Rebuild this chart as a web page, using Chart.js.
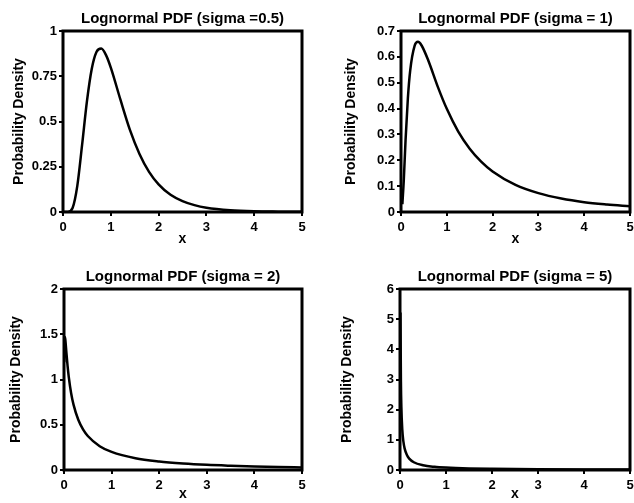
<!DOCTYPE html>
<html>
<head>
<meta charset="utf-8">
<script src="https://cdn.jsdelivr.net/npm/chart.js@4.4.0/dist/chart.umd.min.js"></script>
<style>
  html, body { margin: 0; padding: 0; background: #fff; overflow: hidden; }
  body { width: 634px; height: 503px; position: relative; }
  .panel { position: absolute; }
</style>
</head>
<body>
<div class="panel" style="left:0;top:0;width:317px;height:251px"><canvas id="g1"></canvas></div>
<div class="panel" style="left:317px;top:0;width:330px;height:251px"><canvas id="g2"></canvas></div>
<div class="panel" style="left:0;top:251px;width:317px;height:252px"><canvas id="g3"></canvas></div>
<div class="panel" style="left:317px;top:251px;width:330px;height:252px"><canvas id="g4"></canvas></div>
<script>
// valores
const titulos = [
  "Lognormal PDF (sigma =0.5)",
  "Lognormal PDF (sigma = 1)",
  "Lognormal PDF (sigma = 2)",
  "Lognormal PDF (sigma = 5)"
];

const x1 = [0, 0.1, 0.2, 0.3, 0.4, 0.5, 0.6, 0.7, 0.8, 0.9, 1.0, 1.2, 1.4, 1.6, 1.8, 2.0, 2.25, 2.5, 2.75, 3.0, 3.5, 4.0, 4.5, 5.0];
const y1 = [0, 0.0002, 0.022, 0.146, 0.372, 0.61, 0.789, 0.884, 0.903, 0.867, 0.798, 0.622, 0.454, 0.321, 0.222, 0.153, 0.095, 0.06, 0.038, 0.024, 0.01, 0.004, 0.002, 0.001];

const x2 = [0.03, 0.06, 0.1, 0.15, 0.2, 0.3, 0.37, 0.45, 0.6, 0.8, 1.0, 1.25, 1.5, 1.75, 2.0, 2.5, 3.0, 3.5, 4.0, 4.5, 5.0];
const y2 = [0.03, 0.12, 0.28, 0.44, 0.546, 0.644, 0.658, 0.644, 0.584, 0.486, 0.399, 0.311, 0.245, 0.195, 0.157, 0.105, 0.073, 0.052, 0.038, 0.029, 0.022];

const x3 = [0.005, 0.01, 0.02, 0.03, 0.05, 0.075, 0.1, 0.15, 0.2, 0.3, 0.4, 0.5, 0.75, 1.0, 1.5, 2.0, 2.5, 3.0, 3.5, 4.0, 4.5, 5.0];
const y3 = [1.19, 1.41, 1.47, 1.43, 1.30, 1.15, 1.03, 0.848, 0.722, 0.555, 0.449, 0.376, 0.263, 0.2, 0.13, 0.094, 0.072, 0.057, 0.047, 0.039, 0.033, 0.029];

const x4 = [0.01, 0.02, 0.03, 0.05, 0.075, 0.1, 0.15, 0.2, 0.3, 0.5, 0.75, 1.0, 1.5, 2.0, 3.0, 4.0, 5.0];
const y4 = [5.22, 2.94, 2.08, 1.33, 0.93, 0.717, 0.495, 0.379, 0.258, 0.158, 0.106, 0.08, 0.053, 0.04, 0.026, 0.019, 0.015];

const ticksX = [0, 1, 2, 3, 4, 5];
const ticksY1 = [0, 0.25, 0.5, 0.75, 1];
const ticksY2 = [0, 0.1, 0.2, 0.3, 0.4, 0.5, 0.6, 0.7];
const ticksY3 = [0, 0.5, 1, 1.5, 2];
const ticksY4 = [0, 1, 2, 3, 4, 5, 6];

const fuente = "'Liberation Sans', Arial, sans-serif";

// marco negro alrededor del area de datos
const marco = {
  id: "marco",
  afterDatasetsDraw(chart) {
    const a = chart.chartArea;
    const ctx = chart.ctx;
    ctx.save();
    ctx.strokeStyle = "#000";
    ctx.lineWidth = 3;
    ctx.strokeRect(a.left, a.top, a.right - a.left, a.bottom - a.top);
    ctx.restore();
  }
};

function crearGrafico(id, titulo, xs, ys, ticksY, op) {
  const datos = xs.map((x, i) => ({ x: x, y: ys[i] }));
  return new Chart(document.getElementById(id).getContext("2d"), {
    type: "line",
    data: {
      datasets: [{
        data: datos,
        borderColor: "#000",
        borderWidth: 2.5,
        pointRadius: 0,
        cubicInterpolationMode: "monotone",
        fill: false
      }]
    },
    options: {
      responsive: true,
      maintainAspectRatio: false,
      animation: false,
      layout: { padding: { left: 0, right: op.derecha, top: 0, bottom: 0 } },
      plugins: {
        legend: { display: false },
        tooltip: { enabled: false },
        title: {
          display: true,
          text: titulo,
          color: "#000",
          fullSize: false,
          font: { family: fuente, size: 15, weight: "bold" },
          padding: { top: op.tituloArriba, bottom: op.tituloAbajo }
        }
      },
      scales: {
        x: {
          type: "linear",
          min: 0,
          max: 5,
          afterBuildTicks: (s) => { s.ticks = ticksX.map(v => ({ value: v })); },
          afterFit: (s) => { s.height = op.altoX; },
          border: { display: false },
          grid: { drawOnChartArea: false, color: "#000", lineWidth: 2, tickLength: 4 },
          ticks: {
            color: "#000", padding: 4, maxRotation: 0,
            callback: (v) => String(v),
            font: { family: fuente, size: 13, weight: "bold" }
          },
          title: {
            display: true,
            text: "x",
            color: "#000",
            padding: { top: 0, bottom: op.tituloX },
            font: { family: fuente, size: 14, weight: "bold" }
          }
        },
        y: {
          min: ticksY[0],
          max: ticksY[ticksY.length - 1],
          afterBuildTicks: (s) => { s.ticks = ticksY.map(v => ({ value: v })); },
          afterFit: (s) => { s.width = op.anchoY; },
          border: { display: false },
          grid: { drawOnChartArea: false, color: "#000", lineWidth: 2, tickLength: 4 },
          ticks: {
            color: "#000", padding: 2,
            callback: (v) => String(v),
            font: { family: fuente, size: 13, weight: "bold" }
          },
          title: {
            display: true,
            text: "Probability Density",
            color: "#000",
            padding: op.tituloY,
            font: { family: fuente, size: 14, weight: "bold" }
          }
        }
      }
    },
    plugins: [marco]
  });
}

crearGrafico("g1", titulos[0], x1, y1, ticksY1,
  { derecha: 15, tituloArriba: 10, tituloAbajo: 3, altoX: 39, tituloX: 3, anchoY: 63, tituloY: 11 });
crearGrafico("g2", titulos[1], x2, y2, ticksY2,
  { derecha: 17, tituloArriba: 10, tituloAbajo: 3, altoX: 39, tituloX: 3, anchoY: 84, tituloY: 26 });
crearGrafico("g3", titulos[2], x3, y3, ticksY3,
  { derecha: 15, tituloArriba: 17, tituloAbajo: 3, altoX: 33, tituloX: 0, anchoY: 64, tituloY: 8 });
crearGrafico("g4", titulos[3], x4, y4, ticksY4,
  { derecha: 17, tituloArriba: 17, tituloAbajo: 3, altoX: 33, tituloX: 0, anchoY: 83, tituloY: 22 });
</script>
</body>
</html>
